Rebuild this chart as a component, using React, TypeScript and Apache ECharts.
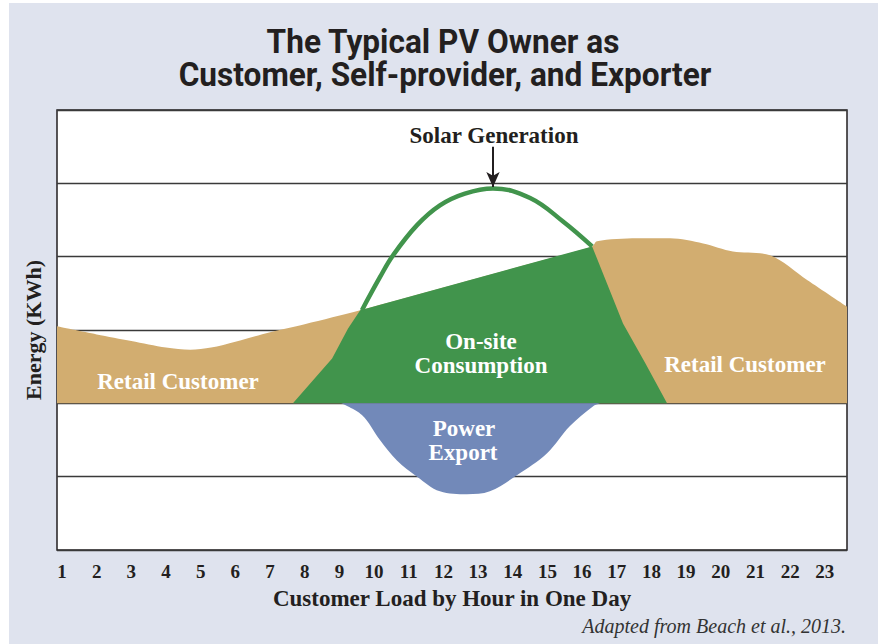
import React, { useEffect, useRef } from "react";
import * as echarts from "echarts";

// Tick labels (hour of the day)
const hourTicks = [1, 2, 3, 4, 5, 6, 7, 8, 9, 10, 11, 12, 13, 14, 15, 16, 17, 18, 19, 20, 21, 22, 23];

// Customer load (retail customer, tan)
const loadHours = [0.856, 2, 3, 4, 4.7, 5.3, 6, 7, 8, 9.6, 12, 14, 16.29, 16.43, 17.58, 18.54, 19.49, 20.35, 21.42, 22.5, 23.64];
const loadKWh = [1.05, 0.94, 0.85, 0.76, 0.73, 0.76, 0.84, 0.97, 1.08, 1.27, 1.58, 1.84, 2.14, 2.21, 2.25, 2.25, 2.18, 2.07, 2.02, 1.68, 1.32];

// On-site consumption (green area)
const onsiteHours = [7.66, 8.79, 9.25, 9.6, 16.29, 17.18, 17.82, 18.45];
const onsiteKWh = [0, 0.61, 1.02, 1.27, 2.14, 1.09, 0.55, 0];

// Solar generation above load (green line)
const solarHours = [9.65, 10.17, 10.55, 11.24, 11.9, 12.62, 13.43, 14.5, 15.45, 16.29];
const solarKWh = [1.27, 1.72, 2.02, 2.43, 2.7, 2.86, 2.93, 2.8, 2.48, 2.14];

// Power export (blue, negative)
const exportHours = [9.05, 9.65, 10.17, 10.66, 11.24, 11.9, 12.68, 13.34, 14.12, 14.99, 15.65, 16.32, 16.52];
const exportKWh = [0, -0.16, -0.5, -0.78, -1.0, -1.2, -1.24, -1.2, -0.98, -0.68, -0.31, -0.04, 0];

// Solar peak annotation
const solarPeakHour = 13.43;
const arrowFromKWh = 3.5;
const arrowToKWh = 2.95;

const pairs = (xs: number[], ys: number[]) => xs.map((x, i) => [x, ys[i]]);

const SERIF = "'Liberation Serif', 'Times New Roman', serif";
const TAN = "#d2ad70";
const GREEN = "#41944c";
const BLUE = "#7289b9";
const INK = "#231f20";

export default function App() {
  const ref = useRef<HTMLDivElement>(null);

  useEffect(() => {
    document.body.style.margin = "0";
    if (!ref.current) return;
    const chart = echarts.init(ref.current, undefined, { renderer: "svg" });

    const serifText = (text: string, x: number, y: number, size: number, fill: string) => ({
      type: "text",
      x,
      y,
      z: 100,
      silent: true,
      style: {
        text,
        fill,
        font: `bold ${size}px ${SERIF}`,
        align: "center",
        verticalAlign: "middle",
      },
    });

    const titleText = (text: string, x: number, y: number) => ({
      type: "text",
      x,
      y,
      z: 100,
      scaleX: 0.93,
      silent: true,
      style: {
        text,
        fill: INK,
        font: "bold 34px Roboto",
        align: "center",
        verticalAlign: "middle",
      },
    });

    const option: any = {
      animation: false,
      backgroundColor: "#ffffff",
      graphic: [
        {
          type: "rect",
          z: -100,
          silent: true,
          shape: { x: 9, y: 3, width: 869, height: 641 },
          style: { fill: "#dfe3ee" },
        },
        titleText("The Typical PV Owner as", 443, 42),
        titleText("Customer, Self-provider, and Exporter", 445, 75),
        {
          type: "text",
          x: 33,
          y: 330,
          z: 100,
          rotation: Math.PI / 2,
          silent: true,
          style: {
            text: "Energy (KWh)",
            fill: INK,
            font: `bold 22px ${SERIF}`,
            align: "center",
            verticalAlign: "middle",
          },
        },
        serifText("Solar Generation", 494, 135, 23, INK),
        serifText("Retail Customer", 178, 381, 23, "#ffffff"),
        serifText("Retail Customer", 745, 364, 23, "#ffffff"),
        serifText("On-site", 481, 341, 23, "#ffffff"),
        serifText("Consumption", 481, 365, 23, "#ffffff"),
        serifText("Power", 464, 428, 23, "#ffffff"),
        serifText("Export", 463, 452, 23, "#ffffff"),
        {
          type: "text",
          x: 846,
          y: 626,
          z: 100,
          silent: true,
          style: {
            text: "Adapted from Beach et al., 2013.",
            fill: "#333333",
            font: `italic 20px ${SERIF}`,
            align: "right",
            verticalAlign: "middle",
          },
        },
      ],
      grid: {
        left: 57,
        right: 31,
        top: 110,
        bottom: 94,
        show: true,
        backgroundColor: "#ffffff",
        borderColor: INK,
        borderWidth: 1.5,
      },
      xAxis: {
        type: "value",
        min: 0.856,
        max: 23.64,
        axisLine: { show: false },
        axisTick: { show: false },
        splitLine: { show: false },
        axisLabel: {
          customValues: hourTicks,
          color: INK,
          fontFamily: SERIF,
          fontWeight: "bold",
          fontSize: 19,
          margin: 12,
        },
        name: "Customer Load by Hour in One Day",
        nameLocation: "middle",
        nameGap: 37,
        nameTextStyle: {
          color: INK,
          fontFamily: SERIF,
          fontWeight: "bold",
          fontSize: 23,
        },
      },
      yAxis: {
        type: "value",
        min: -2,
        max: 4,
        interval: 1,
        axisLine: { show: false },
        axisTick: { show: false },
        axisLabel: { show: false },
        splitLine: { lineStyle: { color: "#3a3a3a", width: 1.3 } },
      },
      series: [
        {
          name: "Retail Customer",
          type: "line",
          data: pairs(loadHours, loadKWh),
          smooth: 0.3,
          symbol: "none",
          lineStyle: { width: 0 },
          areaStyle: { color: TAN, opacity: 1 },
          z: 1,
        },
        {
          name: "On-site Consumption",
          type: "line",
          data: pairs(onsiteHours, onsiteKWh),
          smooth: false,
          symbol: "none",
          lineStyle: { width: 0 },
          areaStyle: { color: GREEN, opacity: 1 },
          z: 2,
        },
        {
          name: "Power Export",
          type: "line",
          data: pairs(exportHours, exportKWh),
          smooth: 0.35,
          symbol: "none",
          lineStyle: { width: 0 },
          areaStyle: { color: BLUE, opacity: 1 },
          z: 2,
        },
        {
          name: "Solar Generation",
          type: "line",
          data: pairs(solarHours, solarKWh),
          smooth: 0.4,
          symbol: "none",
          lineStyle: { width: 4.5, color: GREEN },
          z: 3,
          markLine: {
            silent: true,
            symbol: ["none", "arrow"],
            symbolSize: [10, 15],
            label: { show: false },
            lineStyle: { color: INK, width: 2, type: "solid" },
            data: [[{ coord: [solarPeakHour, arrowFromKWh] }, { coord: [solarPeakHour, arrowToKWh] }]],
          },
        },
      ],
    };

    chart.setOption(option);
    return () => chart.dispose();
  }, []);

  return <div ref={ref} style={{ width: 878, height: 644 }} />;
}
